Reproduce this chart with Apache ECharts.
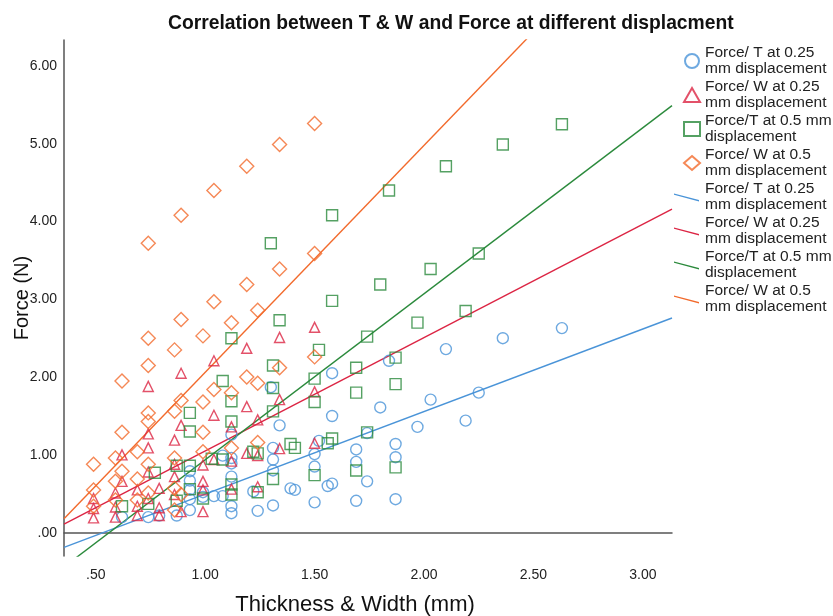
<!DOCTYPE html>
<html>
<head>
<meta charset="utf-8">
<script src="https://cdn.jsdelivr.net/npm/echarts@6/dist/echarts.min.js"></script>
<style>
  html, body { margin: 0; padding: 0; background: #fff; }
  #main { width: 833px; height: 616px; }
</style>
</head>
<body>
<div id="main"></div>
<script>
// series names
const names = [
  'Force/ T at 0.25\nmm displacement',
  'Force/ W at 0.25\nmm displacement',
  'Force/T at 0.5 mm\ndisplacement',
  'Force/ W at 0.5\nmm displacement'
];

// Force / thickness at 0.25 mm
const forceT025 = [
  [0.62, 0.20], [0.74, 0.20], [0.79, 0.22], [0.87, 0.22], [0.93, 0.79], [0.93, 0.67],
  [0.93, 0.55], [0.93, 0.43], [0.93, 0.29], [0.99, 0.52], [0.99, 0.46], [1.04, 0.47],
  [1.08, 0.47], [1.08, 0.99], [1.12, 1.26], [1.12, 0.96], [1.12, 0.89], [1.12, 0.72],
  [1.12, 0.34], [1.12, 0.25], [1.22, 0.53], [1.24, 0.28], [1.30, 1.87], [1.31, 1.09],
  [1.31, 0.94], [1.31, 0.80], [1.31, 0.35], [1.34, 1.38], [1.39, 0.57], [1.41, 0.55],
  [1.50, 1.01], [1.50, 0.85], [1.50, 0.39], [1.52, 1.18], [1.56, 0.60], [1.58, 0.63],
  [1.58, 2.05], [1.58, 1.50], [1.69, 1.07], [1.69, 0.91], [1.69, 0.41], [1.74, 1.28],
  [1.74, 0.66], [1.80, 1.61], [1.84, 2.21], [1.87, 1.14], [1.87, 0.97], [1.87, 0.43],
  [1.97, 1.36], [2.03, 1.71], [2.10, 2.36], [2.19, 1.44], [2.25, 1.80], [2.36, 2.50],
  [2.63, 2.63]
];

// Force / width at 0.25 mm
const forceW025 = [
  [0.49, 0.44], [0.49, 0.31], [0.49, 0.19], [0.59, 0.51], [0.59, 0.33], [0.59, 0.20],
  [0.62, 1.00], [0.62, 0.66], [0.69, 0.55], [0.69, 0.34], [0.69, 0.22], [0.74, 1.88],
  [0.74, 1.27], [0.74, 1.09], [0.74, 0.78], [0.74, 0.44], [0.79, 0.57], [0.79, 0.32],
  [0.79, 0.22], [0.86, 1.19], [0.86, 0.88], [0.86, 0.72], [0.86, 0.49], [0.89, 2.05],
  [0.89, 1.38], [0.89, 0.27], [0.99, 0.87], [0.99, 0.66], [0.99, 0.55], [0.99, 0.27],
  [1.04, 2.21], [1.04, 1.51], [1.04, 0.94], [1.12, 1.36], [1.12, 0.92], [1.12, 0.56],
  [1.19, 2.37], [1.19, 1.62], [1.19, 1.02], [1.24, 1.45], [1.24, 0.99], [1.24, 0.59],
  [1.34, 2.51], [1.34, 1.71], [1.34, 1.08], [1.50, 2.64], [1.50, 1.81], [1.50, 1.15]
];

// Force / thickness at 0.5 mm
const forceT05 = [
  [0.62, 0.34], [0.74, 0.37], [0.77, 0.77], [0.87, 0.86], [0.87, 0.41], [0.93, 1.54],
  [0.93, 1.30], [0.93, 0.86], [0.93, 0.56], [0.99, 0.44], [1.03, 0.95], [1.08, 0.94],
  [1.08, 1.95], [1.12, 2.50], [1.12, 1.69], [1.12, 1.43], [1.12, 0.62], [1.12, 0.49],
  [1.22, 1.04], [1.24, 1.02], [1.24, 0.52], [1.30, 3.72], [1.31, 2.15], [1.31, 1.86],
  [1.31, 1.56], [1.31, 0.69], [1.34, 2.73], [1.39, 1.14], [1.41, 1.09], [1.50, 1.98],
  [1.50, 1.68], [1.50, 0.74], [1.52, 2.35], [1.56, 1.15], [1.58, 1.21], [1.58, 4.08],
  [1.58, 2.98], [1.69, 2.12], [1.69, 1.80], [1.69, 0.80], [1.74, 2.52], [1.74, 1.29],
  [1.80, 3.19], [1.84, 4.40], [1.87, 2.25], [1.87, 1.91], [1.87, 0.84], [1.97, 2.70],
  [2.03, 3.39], [2.10, 4.71], [2.19, 2.85], [2.25, 3.59], [2.36, 4.99], [2.63, 5.25]
];

// Force / width at 0.5 mm
const forceW05 = [
  [0.49, 0.88], [0.49, 0.55], [0.49, 0.34], [0.59, 0.96], [0.59, 0.66], [0.59, 0.42],
  [0.62, 1.95], [0.62, 1.29], [0.62, 0.79], [0.69, 1.04], [0.69, 0.69], [0.69, 0.42],
  [0.74, 3.72], [0.74, 2.50], [0.74, 2.15], [0.74, 1.54], [0.74, 1.43], [0.74, 0.88],
  [0.74, 0.51], [0.86, 2.35], [0.86, 1.56], [0.86, 0.96], [0.86, 0.57], [0.86, 0.29],
  [0.89, 4.08], [0.89, 2.74], [0.89, 1.70], [0.89, 0.49], [0.99, 2.53], [0.99, 1.68],
  [0.99, 1.29], [0.99, 1.04], [1.04, 4.40], [1.04, 2.97], [1.04, 1.84], [1.12, 2.70],
  [1.12, 1.80], [1.12, 1.09], [1.19, 4.71], [1.19, 3.19], [1.19, 2.00], [1.24, 2.86],
  [1.24, 1.92], [1.24, 1.16], [1.34, 4.99], [1.34, 3.39], [1.34, 2.12], [1.50, 5.26],
  [1.50, 3.59], [1.50, 2.26]
];

// fit lines, end points
const fitT025 = [[0.355, -0.19], [3.133, 2.76]];
const fitW025 = [[0.355, 0.11], [3.133, 4.16]];
const fitT05 = [[0.355, -0.44], [3.133, 5.49]];
const fitW05 = [[0.355, 0.18], [2.6, 6.73]];

const xTicks = [0.5, 1, 1.5, 2, 2.5, 3];
const yTicks = [0, 1, 2, 3, 4, 5, 6];

const colors = ['#4a94d8', '#dc2544', '#2b8a3c', '#f26a2c'];
const font = 'Liberation Sans, Arial, Helvetica, sans-serif';

function fmt(v) {
  let s = v.toFixed(2);
  if (s.startsWith('0')) s = s.slice(1);
  return s;
}

function scatter(i, data, symbol, size) {
  return {
    name: names[i],
    type: 'scatter',
    data: data,
    symbol: symbol,
    symbolSize: size,
    itemStyle: { color: 'transparent', borderColor: colors[i], borderWidth: 1.4 },
    z: 3
  };
}

function fit(i, data) {
  return {
    name: names[i] + ' ',
    type: 'line',
    data: data,
    showSymbol: false,
    symbol: 'none',
    clip: true,
    lineStyle: { color: colors[i], width: 1.4 },
    itemStyle: { color: colors[i] },
    z: 2
  };
}

const lineIcon = 'path://M0,0L0.01,0L0,0.01Z M27,13L26.99,13L27,12.99Z M1,3L26,9.6L26,10.9L1,4.3Z';
const legendText = { fontFamily: font, fontSize: 15.5, lineHeight: 16, color: '#222' };

const chart = echarts.init(document.getElementById('main'));
chart.setOption({
  animation: false,
  backgroundColor: '#fff',
  title: {
    text: 'Correlation between T & W and Force at different displacment',
    left: 163,
    top: 9,
    textStyle: { fontFamily: font, fontSize: 19.3, fontWeight: 'bold', color: '#111' }
  },
  legend: [
    {
      orient: 'vertical',
      left: 678,
      top: 40,
      itemWidth: 16,
      itemHeight: 14,
      itemGap: 2,
      textStyle: legendText,
      data: [names[0], names[1], names[2], names[3]]
    },
    {
      orient: 'vertical',
      left: 668,
      top: 176,
      itemWidth: 27,
      itemHeight: 13,
      itemGap: 2,
      textStyle: legendText,
      data: names.map(n => ({ name: n + ' ', icon: lineIcon }))
    }
  ],
  grid: { left: 64, right: 161, top: 40, bottom: 60, outerBoundsMode: 'none', containLabel: false },
  xAxis: {
    type: 'value',
    min: 0.355,
    max: 3.133,
    name: 'Thickness & Width (mm)',
    nameLocation: 'middle',
    nameGap: 38,
    nameMoveOverlap: false,
    nameTextStyle: { fontFamily: font, fontSize: 22, color: '#111', padding: [0, 26, 0, 0] },
    axisLine: { show: true, lineStyle: { color: '#555', width: 1.5 } },
    axisTick: { show: false, customValues: xTicks },
    splitLine: { show: false },
    axisLabel: {
      customValues: xTicks,
      formatter: fmt,
      margin: 12,
      fontFamily: font,
      fontSize: 14,
      color: '#222'
    }
  },
  yAxis: {
    type: 'value',
    min: -0.3,
    max: 6.334,
    name: 'Force (N)',
    nameLocation: 'middle',
    nameGap: 32,
    nameMoveOverlap: false,
    nameTextStyle: { fontFamily: font, fontSize: 20, color: '#111' },
    axisLine: { show: true, lineStyle: { color: '#555', width: 1.5 } },
    axisTick: { show: false, customValues: yTicks },
    splitLine: { show: false },
    axisLabel: {
      customValues: yTicks,
      formatter: fmt,
      margin: 7,
      fontFamily: font,
      fontSize: 14,
      color: '#222'
    }
  },
  series: [
    scatter(0, forceT025, 'circle', 11),
    scatter(1, forceW025, 'triangle', 10),
    scatter(2, forceT05, 'rect', 11),
    scatter(3, forceW05, 'diamond', 14),
    fit(0, fitT025),
    fit(1, fitW025),
    fit(2, fitT05),
    fit(3, fitW05)
  ]
});
</script>
</body>
</html>
